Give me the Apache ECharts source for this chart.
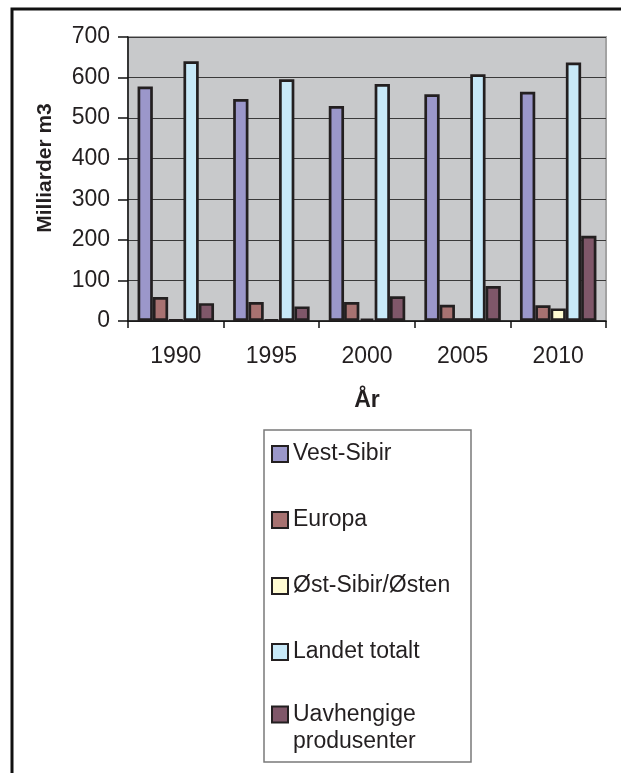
<!DOCTYPE html>
<html>
<head>
<meta charset="utf-8">
<script src="https://cdn.jsdelivr.net/npm/echarts@6/dist/echarts.min.js"></script>
<style>
html,body{margin:0;padding:0;background:#fff;}
#chart{width:621px;height:773px;}
</style>
</head>
<body>
<div id="chart"></div>
<script>
const categories = ['1990', '1995', '2000', '2005', '2010'];
const seriesNames = ['Vest-Sibir', 'Europa', 'Øst-Sibir/Østen', 'Landet totalt', 'Uavhengige\nprodusenter'];
const vestSibir = [578, 547, 530, 559, 565];
const europa = [59, 47, 47, 40, 39];
const ostSibir = [3, 3, 6, 7, 31];
const landetTotalt = [640, 596, 584, 608, 637];
const uavhengige = [44, 36, 61, 86, 210];
const yTicks = [0, 100, 200, 300, 400, 500, 600, 700];

const colors = ['#9b97ca', '#a87271', '#fffbd2', '#c8e9f8', '#7f5769'];
const values = [vestSibir, europa, ostSibir, landetTotalt, uavhengige];
const txt = '#231f20';
const font = '"Liberation Sans", Arial, sans-serif';

const legendBase = {
  orient: 'vertical',
  left: 271,
  height: 400,
  padding: 0,
  itemWidth: 16, itemHeight: 16, itemGap: 42,
  icon: 'rect',
  selectedMode: false,
  textStyle: {fontSize: 23, fontFamily: font, color: txt, lineHeight: 24}
};

const chart = echarts.init(document.getElementById('chart'), null, {renderer: 'canvas'});
chart.setOption({
  animation: false,
  textStyle: {fontFamily: font, color: txt},
  graphic: [
    {type: 'rect', shape: {x: 12, y: 9, width: 700, height: 800}, style: {fill: 'none', stroke: '#111', lineWidth: 3}, z: 100},
    {type: 'rect', shape: {x: 264, y: 430, width: 207, height: 332}, style: {fill: '#fff', stroke: '#7a7a7a', lineWidth: 1.5}, z: -1}
  ],
  grid: {
    left: 128, top: 37, right: 15, bottom: 452,
    show: true, backgroundColor: '#c8c9cb', borderColor: '#a3a3a3', borderWidth: 2,
    containLabel: false
  },
  legend: [
    Object.assign({}, legendBase, {top: 442, data: seriesNames.slice(0, 4)}),
    Object.assign({}, legendBase, {
      top: 674,
      data: seriesNames.slice(4),
      formatter: (name) => ' \n' + name,
      textStyle: {fontSize: 23, fontFamily: font, color: txt, lineHeight: 27}
    })
  ],
  xAxis: {
    type: 'category',
    data: categories,
    name: 'År',
    nameLocation: 'middle',
    nameGap: 68,
    nameTextStyle: {fontSize: 23, fontWeight: 'bold', color: txt, fontFamily: font},
    axisLine: {lineStyle: {color: '#111', width: 1.5}},
    axisTick: {show: true, alignWithLabel: false, length: 7, lineStyle: {color: '#111', width: 1.5}},
    axisLabel: {fontSize: 23, color: txt, margin: 24, fontFamily: font}
  },
  yAxis: {
    type: 'value',
    min: yTicks[0], max: yTicks[yTicks.length - 1], interval: 100,
    name: 'Milliarder m3',
    nameLocation: 'middle',
    nameGap: 72,
    nameRotate: 90,
    nameTextStyle: {fontSize: 21, fontWeight: 'bold', color: txt, fontFamily: font, padding: [0, 0, 0, 22]},
    axisLine: {show: true, lineStyle: {color: '#111', width: 1.5}},
    axisTick: {show: true, length: 10, lineStyle: {color: '#111', width: 1.5}},
    axisLabel: {fontSize: 23, color: txt, margin: 18, fontFamily: font},
    splitLine: {show: true, lineStyle: {color: '#3a3a3a', width: 1.2}}
  },
  series: seriesNames.map((n, i) => ({
    type: 'bar',
    name: n,
    data: values[i],
    barGap: '0%',
    barCategoryGap: '20%',
    itemStyle: {color: colors[i], borderColor: '#231f20', borderWidth: 2.7},
    emphasis: {disabled: true}
  }))
});
</script>
</body>
</html>
